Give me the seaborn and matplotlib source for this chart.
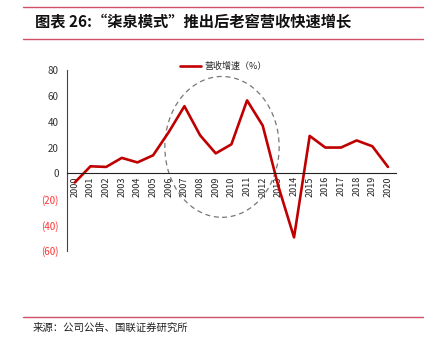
import numpy as np
import pandas as pd
import matplotlib
matplotlib.use('Agg')
import matplotlib.pyplot as plt
from matplotlib.patches import Ellipse
from matplotlib.lines import Line2D
import seaborn as sns

# data
years = [str(y) for y in range(2000, 2021)]
growth = [-7, 5.5, 5, 12, 8.5, 14, 32, 52, 29.5, 15.5, 22.5, 56.5, 37, -10, -49.5,
          29, 20, 20, 25.5, 21, 5]
yticks = [80, 60, 40, 20, 0, -20, -40, -60]

title_text = '图表 26:“柒泉模式”推出后老窖营收快速增长'
legend_text = '营收增速（%）'
source_text = '来源：公司公告、国联证券研究所'

sns.set_style('white')
plt.rcParams['font.family'] = ['Noto Sans CJK SC', 'DejaVu Sans']

df = pd.DataFrame({'idx': np.arange(len(years)), 'growth': growth})

fig = plt.figure(figsize=(4.39, 3.5), dpi=100)
ax = fig.add_axes([0.1526, 0.283, 0.749, 0.517])

sns.lineplot(data=df, x='idx', y='growth', ax=ax, color='#C00000', linewidth=1.9)

ax.set_xlim(-0.5, len(years) - 0.5)
ax.set_ylim(-60, 80)
ax.set_xlabel('')
ax.set_ylabel('')

# axes styling
for s in ['top', 'right']:
    ax.spines[s].set_visible(False)
ax.spines['bottom'].set_position(('data', 0))
ax.spines['bottom'].set_color('#222222')
ax.spines['bottom'].set_linewidth(0.8)
ax.spines['left'].set_color('#444444')
ax.spines['left'].set_linewidth(0.8)

ax.set_xticks(np.arange(len(years)))
ax.set_xticklabels(years, rotation=90, fontsize=6.5, color='#222222')
ax.set_xticks(np.arange(-0.5, len(years)), minor=True)
ax.tick_params(axis='x', which='major', length=0, pad=2)
ax.tick_params(axis='x', which='minor', length=3, direction='out', color='#222222', width=0.7)

ax.set_yticks(yticks)
ax.set_yticklabels([str(v) if v >= 0 else f'({-v})' for v in yticks], fontsize=7)
for lab, v in zip(ax.get_yticklabels(), yticks):
    lab.set_color('#FF3333' if v < 0 else '#333333')
ax.tick_params(axis='y', length=3, direction='out', color='#444444', width=0.7, pad=3)

# dashed highlight ellipse
ell = Ellipse((9.4, 20.5), 7.3, 109, fill=False, linestyle=(0, (4, 3)),
              edgecolor='#777777', linewidth=0.9)
ax.add_patch(ell)

# legend
handle = Line2D([0], [0], color='#C00000', linewidth=1.9)
leg = ax.legend([handle], [legend_text], loc='upper left', bbox_to_anchor=(0.32, 1.09),
                frameon=False, fontsize=6.5, handlelength=2.3, handletextpad=0.4)

# title, rules and source
fig.text(0.08, 0.935, title_text, fontsize=11, fontweight='bold', style='italic',
         va='center', ha='left', color='#111111')
for yy in [0.98, 0.888, 0.095]:
    fig.add_artist(Line2D([0.053, 0.963], [yy, yy], color='#D0506A', linewidth=1.0,
                          transform=fig.transFigure))
fig.text(0.075, 0.065, source_text, fontsize=7.5, va='center', ha='left', color='#222222')

fig.savefig('out.png', dpi=100)
